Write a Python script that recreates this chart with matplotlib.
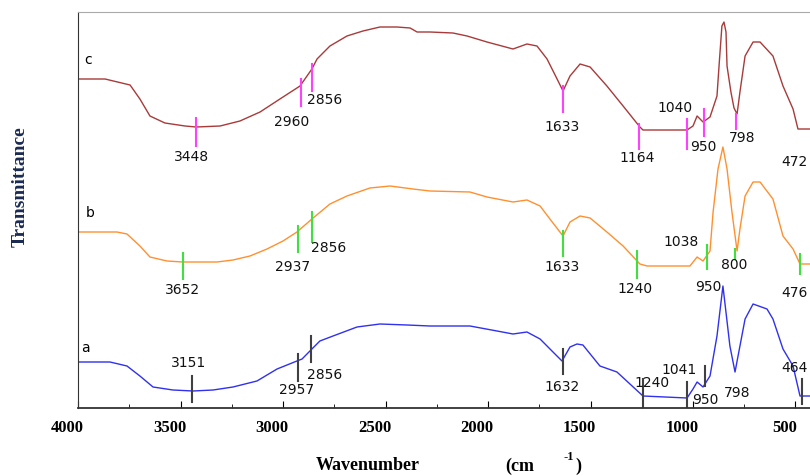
import matplotlib.pyplot as plt
from matplotlib.transforms import ScaledTranslation

# FTIR spectra, wavenumber (cm-1) vs transmittance (arbitrary, curves offset)
wn_c = [4000, 3868, 3746, 3698, 3649, 3576, 3478, 3424, 3307, 3210, 3112, 3015,
        2917, 2859, 2834, 2771, 2688, 2610, 2527, 2444, 2380, 2346, 2283, 2171,
        2102, 2005, 1878, 1810, 1761, 1712, 1663, 1634, 1600, 1551, 1502, 1420,
        1341, 1259, 1244, 1029, 1000, 980, 951, 917, 883, 873, 859, 849, 839,
        834, 815, 800, 785, 771, 746, 707, 673, 610, 561, 512, 488, 400]
t_c = [329, 329, 323, 309, 292, 285, 282, 281, 282, 287, 296, 309,
       322, 339, 349, 362, 372, 377, 381, 381, 380, 376, 376, 375,
       372, 366, 359, 364, 362, 349, 329, 317, 332, 344, 341, 322,
       302, 281, 278, 278, 282, 292, 286, 291, 312, 342, 382, 386, 376,
       342, 316, 300, 294, 316, 352, 366, 366, 352, 322, 299, 279, 279]

wn_b = [4000, 3810, 3761, 3698, 3649, 3566, 3488, 3322, 3244, 3161, 3078, 3000,
        2932, 2859, 2771, 2688, 2576, 2478, 2366, 2283, 2088, 2005, 1878, 1810,
        1746, 1698, 1634, 1600, 1551, 1502, 1420, 1341, 1259, 1224, 1015, 980,
        951, 917, 902, 878, 854, 834, 810, 785, 771, 746, 707, 673, 610, 561,
        512, 478, 400]
t_b = [176, 176, 174, 162, 151, 147, 146, 146, 148, 152, 159, 167,
       176, 189, 204, 212, 220, 222, 219, 217, 216, 211, 206, 208,
       202, 189, 172, 186, 192, 190, 176, 162, 144, 142, 142, 151,
       147, 157, 196, 239, 261, 239, 196, 157, 179, 212, 226, 226, 209, 172,
       159, 144, 144]

wn_a = [4000, 3844, 3761, 3698, 3634, 3537, 3439, 3341, 3244, 3127, 3029, 2932,
        2907, 2859, 2820, 2756, 2639, 2527, 2395, 2283, 2088, 1956, 1878, 1810,
        1746, 1683, 1639, 1600, 1566, 1537, 1454, 1371, 1244, 1029, 1000, 980,
        951, 917, 883, 854, 820, 795, 771, 746, 707, 639, 610, 561, 512, 478, 400]
t_a = [46, 46, 42, 32, 21, 18, 17, 18, 21, 27, 39, 47,
       49, 59, 67, 72, 81, 84, 83, 82, 82, 77, 74, 76,
       69, 56, 47, 61, 64, 63, 42, 36, 12, 10, 19, 26,
       21, 32, 72, 122, 62, 36, 62, 89, 104, 99, 89, 59, 42, 12, 12]

# band markers: wavenumber, bottom, top
mk_c = [(3424, 262, 290), (2912, 302, 329), (2859, 317, 344), (1634, 296, 322),
        (1263, 259, 284), (1029, 259, 289), (946, 272, 299), (790, 279, 294)]
mk_b = [(3488, 129, 155), (2927, 156, 182), (2859, 166, 196), (1634, 152, 177),
        (1273, 130, 157), (932, 139, 163), (795, 149, 159), (478, 134, 154)]
mk_a = [(3444, 6, 32), (2927, 27, 54), (2863, 46, 72), (1634, 34, 59),
        (1244, 0, 29), (1029, 0, 26), (942, 22, 42), (468, 4, 29)]

# band labels: text, wavenumber, height
lb_c = [('3448', 3444, 252), ('2960', 2956, 287), ('2856', 2795, 309),
        ('1633', 1639, 282), ('1164', 1273, 251), ('1040', 1088, 301),
        ('950', 951, 262), ('798', 761, 271), ('472', 505, 247)]
lb_b = [('3652', 3488, 119), ('2937', 2951, 142), ('2856', 2776, 161),
        ('1633', 1639, 142), ('1240', 1283, 120), ('1038', 1059, 167),
        ('950', 927, 122), ('800', 800, 144), ('476', 505, 116)]
lb_a = [('3151', 3459, 46), ('2957', 2932, 19), ('2856', 2795, 34),
        ('1632', 1639, 22), ('1240', 1200, 26), ('1041', 1068, 39),
        ('950', 941, 9), ('798', 785, 16), ('464', 505, 41)]

fig = plt.figure(figsize=(8.1, 4.77), dpi=100)
ax = fig.add_axes([78/810, 68/477, 738/810, 396/477])

ax.plot(wn_c, t_c, color='#a83a3a', lw=1.0)
ax.plot(wn_b, t_b, color='#ff9030', lw=1.0)
ax.plot(wn_a, t_a, color='#3030f0', lw=1.0)

for marks, col in [(mk_c, '#ff40ff'), (mk_b, '#40e040'), (mk_a, '#404040')]:
    for w, lo, hi in marks:
        ax.plot([w, w], [lo, hi], color=col, lw=1.5)

for labels in [lb_c, lb_b, lb_a]:
    for txt, w, y in labels:
        ax.text(w, y, txt, ha='center', va='center', fontsize=10,
                family='DejaVu Sans', color='#111111')

ax.text(3951, 349, 'c', fontsize=10, ha='center', va='center')
ax.text(3941, 196, 'b', fontsize=10, ha='center', va='center')
ax.text(3966, 61, 'a', fontsize=10, ha='center', va='center')

ax.set_xlim(4000, 400)
ax.set_ylim(0, 396)
ax.set_xticks([4000, 3500, 3000, 2500, 2000, 1500, 1000, 500])
ax.set_xticks(range(3750, 400, -500), minor=True)
ax.set_yticks([])
ax.tick_params(axis='x', direction='in', length=5, labelsize=12, pad=8)
ax.tick_params(axis='x', which='minor', direction='in', length=3)
shift = ScaledTranslation(-11/100, 0, fig.dpi_scale_trans)
for lab in ax.get_xticklabels():
    lab.set_family('Liberation Serif')
    lab.set_fontweight('bold')
    lab.set_transform(lab.get_transform() + shift)
ax.spines['top'].set_color('#aaaaaa')
ax.spines['left'].set_color('#333333')
ax.spines['bottom'].set_color('#333333')
ax.spines['bottom'].set_linewidth(1.3)
ax.spines['right'].set_visible(False)

fig.text(20/810, 1 - 187/477, 'Transmittance', rotation=90, ha='center',
         va='center', fontsize=14, fontweight='bold', family='Liberation Serif',
         color='#1a2a50')
fig.text(368/810, 1 - 466/477, 'Wavenumber', ha='center', va='center',
         fontsize=13, fontweight='bold', family='Liberation Serif')
fig.text(520/810, 1 - 466/477, '(cm', ha='center', va='center',
         fontsize=13, fontweight='bold', family='Liberation Serif')
fig.text(569/810, 1 - 457/477, '-1', ha='center', va='center',
         fontsize=9, fontweight='bold', family='Liberation Serif')
fig.text(578/810, 1 - 466/477, ')', ha='center', va='center',
         fontsize=13, fontweight='bold', family='Liberation Serif')

fig.savefig('out.png', dpi=100)
